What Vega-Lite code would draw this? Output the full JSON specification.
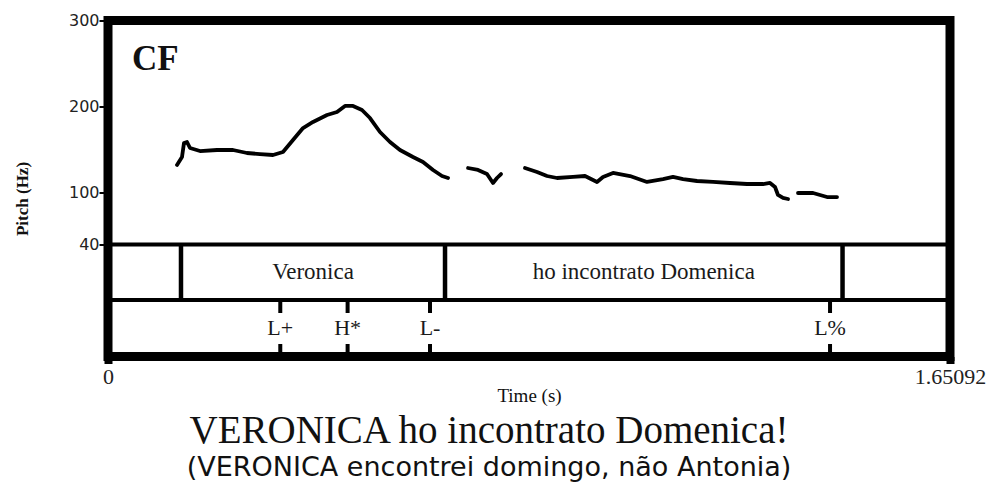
{
  "$schema": "https://vega.github.io/schema/vega-lite/v6.json",
  "width": 842,
  "height": 336,
  "autosize": {"type": "none"},
  "padding": {"left": 108, "top": 20.5, "right": 40, "bottom": 127.5},
  "background": "white",
  "config": {
    "view": {"stroke": "black", "strokeWidth": 9},
    "font": "Liberation Serif"
  },
  "title": {
    "text": "VERONICA ho incontrato Domenica!",
    "subtitle": "(VERONICA encontrei domingo, não Antonia)",
    "orient": "bottom",
    "anchor": "middle",
    "dx": -40,
    "offset": 6,
    "font": "Liberation Serif",
    "fontSize": 39,
    "fontWeight": "normal",
    "color": "#111111",
    "subtitleFont": "DejaVu Sans",
    "subtitleFontSize": 27,
    "subtitleColor": "#111111",
    "subtitlePadding": 4
  },
  "datasets": {
    "pitch": [
      {"seg": 1, "time": 0.1353, "hz": 132.3},
      {"seg": 1, "time": 0.1451, "hz": 141.6},
      {"seg": 1, "time": 0.1490, "hz": 157.8},
      {"seg": 1, "time": 0.1549, "hz": 159.0},
      {"seg": 1, "time": 0.1608, "hz": 152.0},
      {"seg": 1, "time": 0.1804, "hz": 148.5},
      {"seg": 1, "time": 0.2137, "hz": 149.7},
      {"seg": 1, "time": 0.2451, "hz": 149.7},
      {"seg": 1, "time": 0.2725, "hz": 146.2},
      {"seg": 1, "time": 0.2980, "hz": 145.0},
      {"seg": 1, "time": 0.3235, "hz": 143.9},
      {"seg": 1, "time": 0.3431, "hz": 147.4},
      {"seg": 1, "time": 0.3627, "hz": 161.3},
      {"seg": 1, "time": 0.3824, "hz": 175.2},
      {"seg": 1, "time": 0.4020, "hz": 182.2},
      {"seg": 1, "time": 0.4294, "hz": 190.3},
      {"seg": 1, "time": 0.4490, "hz": 193.8},
      {"seg": 1, "time": 0.4647, "hz": 200.8},
      {"seg": 1, "time": 0.4804, "hz": 200.8},
      {"seg": 1, "time": 0.4980, "hz": 196.1},
      {"seg": 1, "time": 0.5137, "hz": 186.8},
      {"seg": 1, "time": 0.5333, "hz": 170.6},
      {"seg": 1, "time": 0.5529, "hz": 159.0},
      {"seg": 1, "time": 0.5725, "hz": 149.7},
      {"seg": 1, "time": 0.5980, "hz": 141.6},
      {"seg": 1, "time": 0.6176, "hz": 135.8},
      {"seg": 1, "time": 0.6373, "hz": 126.5},
      {"seg": 1, "time": 0.6549, "hz": 119.5},
      {"seg": 1, "time": 0.6667, "hz": 117.2},
      {"seg": 2, "time": 0.7059, "hz": 128.8},
      {"seg": 2, "time": 0.7255, "hz": 126.5},
      {"seg": 2, "time": 0.7431, "hz": 121.8},
      {"seg": 2, "time": 0.7549, "hz": 111.4},
      {"seg": 2, "time": 0.7627, "hz": 117.2},
      {"seg": 2, "time": 0.7706, "hz": 121.8},
      {"seg": 3, "time": 0.8176, "hz": 128.8},
      {"seg": 3, "time": 0.8412, "hz": 124.2},
      {"seg": 3, "time": 0.8608, "hz": 119.5},
      {"seg": 3, "time": 0.8804, "hz": 117.2},
      {"seg": 3, "time": 0.9118, "hz": 118.4},
      {"seg": 3, "time": 0.9353, "hz": 119.5},
      {"seg": 3, "time": 0.9588, "hz": 112.6},
      {"seg": 3, "time": 0.9706, "hz": 118.4},
      {"seg": 3, "time": 0.9902, "hz": 123.0},
      {"seg": 3, "time": 1.0235, "hz": 119.5},
      {"seg": 3, "time": 1.0569, "hz": 112.6},
      {"seg": 3, "time": 1.0882, "hz": 116.0},
      {"seg": 3, "time": 1.1078, "hz": 118.4},
      {"seg": 3, "time": 1.1275, "hz": 116.0},
      {"seg": 3, "time": 1.1549, "hz": 113.7},
      {"seg": 3, "time": 1.1863, "hz": 112.6},
      {"seg": 3, "time": 1.2196, "hz": 111.4},
      {"seg": 3, "time": 1.2529, "hz": 110.2},
      {"seg": 3, "time": 1.2843, "hz": 110.2},
      {"seg": 3, "time": 1.2980, "hz": 111.4},
      {"seg": 3, "time": 1.3078, "hz": 106.7},
      {"seg": 3, "time": 1.3137, "hz": 97.5},
      {"seg": 3, "time": 1.3235, "hz": 94.0},
      {"seg": 3, "time": 1.3333, "hz": 92.8},
      {"seg": 4, "time": 1.3529, "hz": 99.8},
      {"seg": 4, "time": 1.3824, "hz": 99.8},
      {"seg": 4, "time": 1.4098, "hz": 95.1},
      {"seg": 4, "time": 1.4294, "hz": 95.1}
    ],
    "words": [
      {"label": "Veronica", "start": 0.1431, "end": 0.6608, "mid": 0.402},
      {"label": "ho incontrato Domenica", "start": 0.6608, "end": 1.4402, "mid": 1.0505}
    ],
    "boundaries": [
      {"time": 0.1431},
      {"time": 0.6608},
      {"time": 1.4402}
    ],
    "tones": [
      {"label": "L+", "time": 0.3378},
      {"label": "H*", "time": 0.4698},
      {"label": "L-", "time": 0.6314},
      {"label": "L%", "time": 1.4157}
    ],
    "tiers": [
      {"tier": "words"}
    ],
    "speaker": [
      {"label": "CF"}
    ]
  },
  "layer": [
    {
      "data": {"name": "pitch"},
      "mark": {"type": "line", "color": "black", "strokeWidth": 3.8, "strokeCap": "round", "strokeJoin": "round"},
      "encoding": {
        "x": {
          "field": "time",
          "type": "quantitative",
          "scale": {"domain": [0, 1.65092], "nice": false, "zero": false},
          "axis": {
            "values": [0, 1.65092],
            "labelExpr": "datum.value == 0 ? '0' : '1.65092'",
            "domain": false,
            "grid": false,
            "tickSize": 7,
            "tickWidth": 8,
            "tickColor": "black",
            "labelPadding": 3,
            "labelFlush": false,
            "labelFont": "Liberation Serif",
            "labelFontSize": 22,
            "labelColor": "#222222",
            "title": "Time (s)",
            "titleFont": "Liberation Serif",
            "titleFontSize": 19,
            "titleFontWeight": "normal",
            "titleColor": "#111111",
            "titleBaseline": "alphabetic",
            "titleY": 45
          }
        },
        "y": {
          "field": "hz",
          "type": "quantitative",
          "scale": {"domain": [-90, 300], "nice": false, "zero": false},
          "axis": {
            "values": [40, 100, 200, 300],
            "format": "d",
            "domain": false,
            "grid": false,
            "tickSize": 9,
            "tickWidth": 2,
            "tickColor": "black",
            "labelPadding": 0,
            "labelFont": "DejaVu Sans",
            "labelFontSize": 16,
            "labelColor": "#222222",
            "title": "Pitch (Hz)",
            "titleFont": "Liberation Serif",
            "titleFontSize": 17,
            "titleFontWeight": "bold",
            "titleColor": "#111111",
            "titleAngle": -90,
            "titleAlign": "center",
            "titleBaseline": "middle",
            "titleX": -86,
            "titleY": 178
          }
        },
        "detail": {"field": "seg", "type": "nominal"}
      }
    },
    {
      "data": {"name": "tiers"},
      "mark": {"type": "rule", "color": "black", "strokeWidth": 4},
      "encoding": {
        "x": {"datum": 0, "type": "quantitative"},
        "x2": {"datum": 1.65092},
        "y": {"datum": 40, "type": "quantitative"}
      }
    },
    {
      "data": {"name": "tiers"},
      "mark": {"type": "rule", "color": "black", "strokeWidth": 4},
      "encoding": {
        "x": {"datum": 0, "type": "quantitative"},
        "x2": {"datum": 1.65092},
        "y": {"datum": -24.4, "type": "quantitative"}
      }
    },
    {
      "data": {"name": "boundaries"},
      "mark": {"type": "rule", "color": "black", "strokeWidth": 4.5},
      "encoding": {
        "x": {"field": "time", "type": "quantitative"},
        "y": {"datum": 40, "type": "quantitative"},
        "y2": {"datum": -24.4}
      }
    },
    {
      "data": {"name": "words"},
      "mark": {"type": "text", "font": "Liberation Serif", "fontSize": 23, "color": "#1a1a1a", "baseline": "middle", "align": "center"},
      "encoding": {
        "x": {"field": "mid", "type": "quantitative"},
        "y": {"datum": 8, "type": "quantitative"},
        "text": {"field": "label"}
      }
    },
    {
      "data": {"name": "tones"},
      "mark": {"type": "rule", "color": "black", "strokeWidth": 4},
      "encoding": {
        "x": {"field": "time", "type": "quantitative"},
        "y": {"datum": -26.5, "type": "quantitative"},
        "y2": {"datum": -39.5}
      }
    },
    {
      "data": {"name": "tones"},
      "mark": {"type": "rule", "color": "black", "strokeWidth": 4},
      "encoding": {
        "x": {"field": "time", "type": "quantitative"},
        "y": {"datum": -75.5, "type": "quantitative"},
        "y2": {"datum": -86}
      }
    },
    {
      "data": {"name": "tones"},
      "mark": {"type": "text", "font": "Liberation Serif", "fontSize": 22, "color": "#1a1a1a", "baseline": "middle", "align": "center"},
      "encoding": {
        "x": {"field": "time", "type": "quantitative"},
        "y": {"datum": -57, "type": "quantitative"},
        "text": {"field": "label"}
      }
    },
    {
      "data": {"name": "speaker"},
      "mark": {"type": "text", "font": "Liberation Serif", "fontSize": 35, "fontWeight": "bold", "color": "#111111", "baseline": "alphabetic", "align": "left"},
      "encoding": {
        "x": {"datum": 0.047, "type": "quantitative"},
        "y": {"datum": 242.5, "type": "quantitative"},
        "text": {"field": "label"}
      }
    }
  ]
}
